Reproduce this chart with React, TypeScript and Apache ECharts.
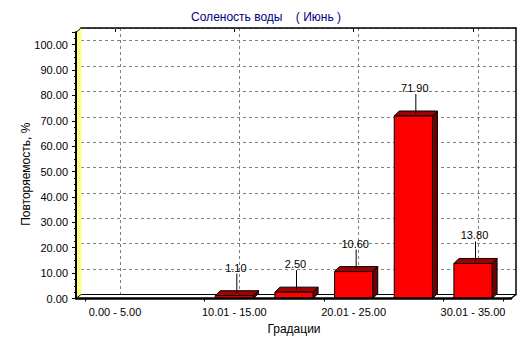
import React, { useEffect, useRef } from 'react';
import * as echarts from 'echarts';

const titleText = 'Соленость воды    ( Июнь )';
const yAxisName = 'Повторяемость, %';
const xAxisName = 'Градации';
const categories = [
  '0.00 - 5.00',
  '5.01 - 10.00',
  '10.01 - 15.00',
  '15.01 - 20.00',
  '20.01 - 25.00',
  '25.01 - 30.00',
  '30.01 - 35.00',
];
const values = [0, 0, 1.1, 2.5, 10.6, 71.9, 13.8];

const FONT = '"Liberation Sans", Arial, sans-serif';
const DX = 5;
const DY = -4;
// front plane
const FL = 76, FR = 511, FT = 32, FB = 298.5;
const C0 = 115, C6 = 473;
const PITCH = (C6 - C0) / 6;
const XMIN = -(C0 - FL) / PITCH;
const XMAX = (FR - C0) / PITCH;

export default function App() {
  const ref = useRef<HTMLDivElement>(null);
  useEffect(() => {
    if (!ref.current) return;
    const chart = echarts.init(ref.current, null, { renderer: 'svg' });
    const hidden = { show: false };
    const barData = values.map((v, i) => [i, v]).filter((d) => d[1] > 0);
    const option: any = {
      animation: false,
      backgroundColor: '#ffffff',
      title: {
        text: titleText,
        left: 'center',
        top: 6,
        textStyle: { color: '#000080', fontFamily: FONT, fontSize: 12, fontWeight: 'normal' },
      },
      grid: [
        { left: FL, top: FT, width: FR - FL, height: FB - FT },
        { left: FL + DX, top: FT + DY, width: FR - FL, height: FB - FT },
        { left: C0 + DX, top: FT + DY, width: C6 - C0, height: FB - FT },
        { left: C0 - PITCH / 2, top: FT, width: PITCH * 7, height: FB - FT },
      ],
      xAxis: [
        {
          gridIndex: 0, type: 'value', min: XMIN, max: XMAX, z: 5,
          axisLine: { show: true, onZero: false, lineStyle: { color: '#000', width: 2.5 } },
          axisTick: hidden, axisLabel: hidden, splitLine: hidden,
        },
        {
          gridIndex: 1, type: 'value', position: 'top', min: 0, max: 1,
          axisLine: { show: true, onZero: false, lineStyle: { color: '#000', width: 1.5 } },
          axisTick: hidden, axisLabel: hidden, splitLine: hidden,
        },
        {
          gridIndex: 1, type: 'value', position: 'bottom', min: 0, max: 1,
          axisLine: { show: true, onZero: false, lineStyle: { color: '#000', width: 1 } },
          axisTick: hidden, axisLabel: hidden, splitLine: hidden,
        },
        {
          gridIndex: 2, type: 'category', data: categories, boundaryGap: false,
          axisLine: hidden, axisTick: hidden, axisLabel: hidden,
          splitLine: { show: true, interval: 1, lineStyle: { color: '#808080', type: [3, 3], width: 1 } },
        },
        {
          gridIndex: 3, type: 'category', data: categories, boundaryGap: true,
          axisLine: hidden,
          axisTick: { show: true, length: 3, lineStyle: { color: '#000' } },
          axisLabel: { show: true, interval: 1, margin: 8, color: '#000', fontFamily: FONT, fontSize: 11 },
          name: xAxisName, nameLocation: 'middle', nameGap: 24, nameMoveOverlap: false,
          nameTextStyle: { color: '#000', fontFamily: FONT, fontSize: 12 },
          splitLine: hidden,
        },
        {
          gridIndex: 3, type: 'category', data: categories, boundaryGap: true,
          axisLine: hidden,
          axisTick: { show: true, length: 3, alignWithLabel: true, lineStyle: { color: '#000' } },
          axisLabel: hidden, splitLine: hidden,
        },
      ],
      yAxis: [
        {
          gridIndex: 0, type: 'value', min: 0, max: 105, interval: 10, z: 5,
          axisLine: { show: true, onZero: false, lineStyle: { color: '#000', width: 2 } },
          axisTick: { show: true, length: 4, lineStyle: { color: '#000' } },
          minorTick: { show: true, splitNumber: 4, length: 2, lineStyle: { color: '#000' } },
          axisLabel: {
            show: true, margin: 8, color: '#000', fontFamily: FONT, fontSize: 11,
            formatter: (v: number) => (v > 100 ? '' : v.toFixed(2)),
          },
          splitLine: hidden,
          name: yAxisName, nameLocation: 'middle', nameGap: 44, nameMoveOverlap: false,
          nameTextStyle: { color: '#000', fontFamily: FONT, fontSize: 12, padding: [0, 18, 0, 0] },
        },
        {
          gridIndex: 1, type: 'value', min: 0, max: 105, interval: 10, position: 'right',
          axisLine: { show: true, onZero: false, lineStyle: { color: '#000', width: 1.5 } },
          axisTick: hidden, axisLabel: hidden,
          splitLine: { show: true, lineStyle: { color: '#808080', type: [3, 3], width: 1 } },
        },
        {
          gridIndex: 2, type: 'value', min: 0, max: 1,
          axisLine: hidden, axisTick: hidden, axisLabel: hidden, splitLine: hidden,
        },
        {
          gridIndex: 3, type: 'value', min: 0, max: 1,
          axisLine: hidden, axisTick: hidden, axisLabel: hidden, splitLine: hidden,
        },
      ],
      graphic: [
        {
          type: 'polygon', z: 1,
          shape: { points: [[FL + 0.5, FB], [FL + 0.5, FT], [FL + DX + 0.5, FT + DY], [FL + DX + 0.5, FB + DY]] },
          style: { fill: '#FFFF88', stroke: null },
        },
        {
          type: 'line', z: 1,
          shape: { x1: FL + 0.5, y1: FT, x2: FL + DX, y2: FT + DY },
          style: { stroke: '#000', lineWidth: 1 },
        },
        {
          type: 'line', z: 1,
          shape: { x1: FL, y1: FB, x2: FL + DX, y2: FB + DY },
          style: { stroke: '#000', lineWidth: 1 },
        },
        {
          type: 'line', z: 6,
          shape: { x1: FR, y1: FB, x2: FR + DX, y2: FB + DY },
          style: { stroke: '#000', lineWidth: 1.5 },
        },
      ],
      series: [
        {
          type: 'custom',
          xAxisIndex: 0,
          yAxisIndex: 0,
          clip: false,
          z: 3,
          data: barData,
          encode: { x: 0, y: 1 },
          renderItem: (params: any, api: any) => {
            const i = api.value(0);
            const v = api.value(1);
            const top = api.coord([i, v]);
            const base = api.coord([i, 0]);
            const pitch = api.size([1, 0])[0];
            const w = pitch * 0.64;
            const x0 = top[0] - w / 2;
            const x1 = top[0] + w / 2;
            const yt = top[1];
            const yb = base[1];
            const dx = 5, dy = -5;
            const stroke = { stroke: '#000', lineWidth: 1 };
            const lx = top[0] + dx / 2;
            const midTop = yt + dy / 2;
            const textY = midTop - 25.5;
            return {
              type: 'group',
              children: [
                {
                  type: 'polygon',
                  shape: { points: [[x1, yt], [x1 + dx, yt + dy], [x1 + dx, yb + dy], [x1, yb]] },
                  style: { fill: '#6e0000', ...stroke },
                },
                {
                  type: 'polygon',
                  shape: { points: [[x0, yt], [x0 + dx, yt + dy], [x1 + dx, yt + dy], [x1, yt]] },
                  style: { fill: '#a30000', ...stroke },
                },
                {
                  type: 'rect',
                  shape: { x: x0, y: yt, width: w, height: yb - yt },
                  style: { fill: '#ff0000', ...stroke },
                },
                {
                  type: 'line',
                  shape: { x1: lx, y1: midTop, x2: lx, y2: textY + 6 },
                  style: { stroke: '#000', lineWidth: 1 },
                },
                {
                  type: 'text',
                  x: lx - 1,
                  y: textY,
                  style: {
                    text: v.toFixed(2),
                    fill: '#000',
                    font: `11px ${FONT}`,
                    align: 'center',
                    verticalAlign: 'middle',
                  },
                },
              ],
            };
          },
        },
      ],
    };
    chart.setOption(option);
    return () => chart.dispose();
  }, []);
  return (
    <div
      ref={ref}
      style={{ position: 'fixed', left: 0, top: 0, width: 532, height: 343, background: '#fff' }}
    />
  );
}
